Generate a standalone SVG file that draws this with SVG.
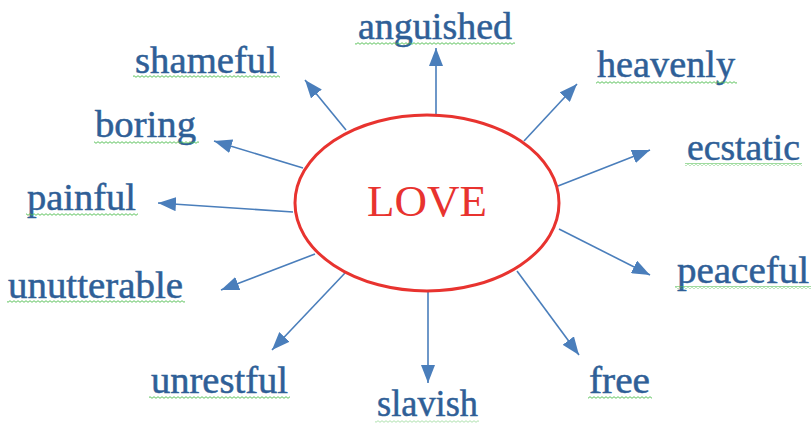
<svg xmlns="http://www.w3.org/2000/svg" width="811" height="425" viewBox="0 0 811 425">
<style>
.w{font-family:"Liberation Serif","Times New Roman",serif;font-size:37px;fill:#2f5f97;stroke:#2f5f97;stroke-width:0.5}
.love{font-family:"Liberation Serif","Times New Roman",serif;font-size:45px;fill:#e8332f}
.c{stroke:#4a7ebb;stroke-width:1.6;fill:none;marker-end:url(#ah)}
.u{fill:url(#wave)}
</style>
<defs>
<marker id="ah" markerUnits="userSpaceOnUse" markerWidth="18" markerHeight="14" refX="18" refY="7" orient="auto"><path d="M0,0 L18,7 L0,14 z" fill="#4a7ebb"/></marker>
<pattern id="wave" width="4" height="3" patternUnits="userSpaceOnUse"><path d="M0,2.3 L2,0.7 L4,2.3" fill="none" stroke="#4cbb4c" stroke-width="0.9"/></pattern>
</defs>
<rect width="811" height="425" fill="#fff"/>
<g id="connectors">
<line class="c" x1="436" y1="114" x2="436" y2="48"/>
<line class="c" x1="524" y1="141" x2="577" y2="84"/>
<line class="c" x1="558" y1="186" x2="650" y2="150"/>
<line class="c" x1="559" y1="229" x2="650" y2="275"/>
<line class="c" x1="517" y1="271" x2="579" y2="355"/>
<line class="c" x1="428" y1="291" x2="428" y2="383"/>
<line class="c" x1="345" y1="273" x2="272" y2="350"/>
<line class="c" x1="315" y1="254" x2="221" y2="290"/>
<line class="c" x1="293" y1="212" x2="158" y2="203"/>
<line class="c" x1="303" y1="168" x2="214" y2="141"/>
<line class="c" x1="346" y1="130" x2="305" y2="80"/>
</g>
<g id="love">
<ellipse cx="427" cy="203" rx="132" ry="88" fill="#fff" stroke="#e8332f" stroke-width="3"/>
<text class="love" x="367" y="216" textLength="120" lengthAdjust="spacingAndGlyphs">LOVE</text>
</g>
<g id="anguished"><text class="w" x="358" y="39" textLength="154" lengthAdjust="spacingAndGlyphs">anguished</text><rect class="u" x="355" y="42" width="160" height="3"/></g>
<g id="shameful"><text class="w" x="135" y="73" textLength="142" lengthAdjust="spacingAndGlyphs">shameful</text><rect class="u" x="133" y="75" width="147" height="3"/></g>
<g id="boring"><text class="w" x="95" y="137" textLength="101" lengthAdjust="spacingAndGlyphs">boring</text><rect class="u" x="94" y="141" width="105" height="3"/></g>
<g id="painful"><text class="w" x="27" y="210" textLength="109" lengthAdjust="spacingAndGlyphs">painful</text><rect class="u" x="26" y="213" width="112" height="3"/></g>
<g id="unutterable"><text class="w" x="8" y="298" textLength="175" lengthAdjust="spacingAndGlyphs">unutterable</text><rect class="u" x="7" y="300" width="178" height="3"/></g>
<g id="unrestful"><text class="w" x="151" y="393" textLength="137" lengthAdjust="spacingAndGlyphs">unrestful</text><rect class="u" x="149" y="396" width="141" height="3"/></g>
<g id="slavish"><text class="w" x="377" y="416" textLength="101" lengthAdjust="spacingAndGlyphs">slavish</text><rect class="u" x="375" y="420" width="104" height="3" opacity="0.5"/></g>
<g id="free"><text class="w" x="589" y="393" textLength="61" lengthAdjust="spacingAndGlyphs">free</text><rect class="u" x="588" y="396" width="64" height="3"/></g>
<g id="peaceful"><text class="w" x="677" y="283" textLength="132" lengthAdjust="spacingAndGlyphs">peaceful</text><rect class="u" x="675" y="286" width="136" height="3"/></g>
<g id="ecstatic"><text class="w" x="687" y="160" textLength="113" lengthAdjust="spacingAndGlyphs">ecstatic</text><rect class="u" x="685" y="163" width="117" height="3"/></g>
<g id="heavenly"><text class="w" x="597" y="77" textLength="138" lengthAdjust="spacingAndGlyphs">heavenly</text><rect class="u" x="596" y="81" width="141" height="3"/></g>
</svg>
